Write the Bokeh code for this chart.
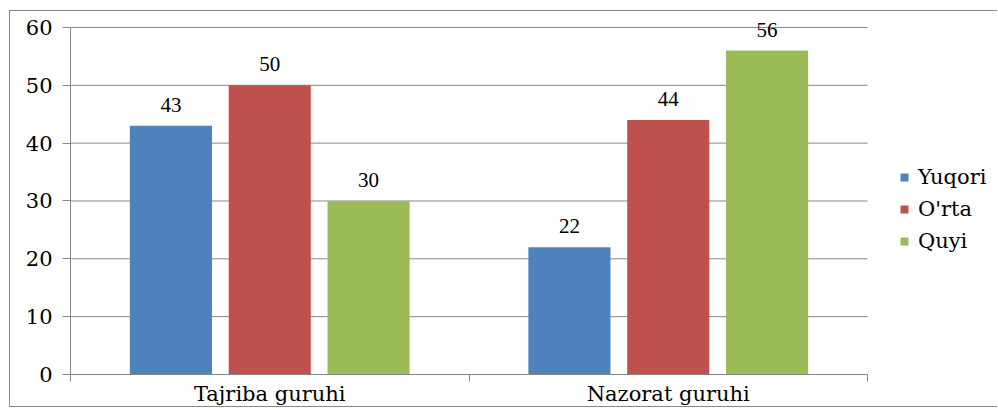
from bokeh.plotting import figure
from bokeh.models import (Range1d, FixedTicker, ColumnDataSource,
                          Legend, LegendItem, LabelSet)
from bokeh.embed import file_html
from bokeh.resources import INLINE

groups = ["Tajriba guruhi", "Nazorat guruhi"]
series = ["Yuqori", "O'rta", "Quyi"]
yuqori = [43, 22]
orta = [50, 44]
quyi = [30, 56]
y_ticks = [0, 10, 20, 30, 40, 50, 60]

colors = ["#4F81BD", "#C0504D", "#9BBB59"]
offsets = [-0.248, 0.0, 0.248]
FONT = "DejaVu Serif"
FS = "21px"
GRID = "#888888"

centers = [i + 0.5 for i in range(len(groups))]
bounds = [float(i) for i in range(len(groups) + 1)]
ymax = y_ticks[-1]

# layout: frame spans to the right and top edges; plotting area ends at len(groups) / ymax
W, H, LEFT, BOTTOM_AXIS = 988, 397, 60, 33
PLOT_W, PLOT_TOP = 797, 16
frame_w = W - LEFT
frame_h = H - BOTTOM_AXIS
x_end = len(groups) * frame_w / PLOT_W
y_end = ymax * frame_h / (frame_h - PLOT_TOP)

p = figure(x_range=Range1d(0, x_end), y_range=Range1d(0, y_end),
           width=W, height=H, output_backend="svg", toolbar_location=None,
           min_border_left=LEFT, min_border_right=0,
           min_border_top=0, min_border_bottom=0)
p.styles = {"border": "1px solid #898989", "border-right": "none",
            "margin-left": "9px", "margin-top": "10px"}
p.outline_line_color = None
p.background_fill_color = "white"
p.border_fill_color = "white"

xax = p.xaxis[0]
xax.bounds = (0, len(groups))
xax.ticker = FixedTicker(ticks=centers, minor_ticks=bounds)
xax.major_label_overrides = {c: g for c, g in zip(centers, groups)}
xax.major_tick_line_color = None
xax.major_tick_out = 0
xax.major_tick_in = 0
xax.minor_tick_out = 7
xax.minor_tick_in = 0
xax.minor_tick_line_color = GRID
xax.axis_line_color = GRID
xax.major_label_standoff = 0
xax.major_label_text_font = FONT
xax.major_label_text_font_size = FS
xax.major_label_text_color = "black"

yax = p.yaxis[0]
yax.bounds = (0, ymax)
yax.ticker = FixedTicker(ticks=y_ticks, minor_ticks=[])
yax.axis_line_color = GRID
yax.major_tick_line_color = GRID
yax.major_tick_out = 8
yax.major_tick_in = 0
yax.minor_tick_line_color = None
yax.major_label_standoff = 10
yax.major_label_text_font = FONT
yax.major_label_text_font_size = FS
yax.major_label_text_color = "black"

p.xgrid.visible = False
p.ygrid.visible = False
# horizontal gridlines limited to the plotting area
p.segment(x0=0, x1=len(groups), y0=y_ticks, y1=y_ticks, line_color=GRID, line_width=1)

items = []
for name, vals, col, off in zip(series, [yuqori, orta, quyi], colors, offsets):
    src = ColumnDataSource(dict(x=[c + off for c in centers], top=vals,
                                t=[str(v) for v in vals]))
    r = p.vbar(x="x", top="top", width=0.206, source=src,
               fill_color=col, line_color=None)
    items.append(LegendItem(label=name, renderers=[r]))
    lbl = LabelSet(x="x", y="top", text="t", source=src,
                   text_align="center", text_baseline="bottom", y_offset=14,
                   text_font=FONT, text_font_size=FS, text_color="black")
    p.add_layout(lbl)

leg = Legend(items=items, location=(829, 121))
leg.border_line_color = None
leg.background_fill_alpha = 0
leg.padding = 6
leg.margin = 0
leg.spacing = 8
leg.glyph_width = 10
leg.glyph_height = 10
leg.label_standoff = 9
leg.label_text_font = FONT
leg.label_text_font_size = FS
leg.label_text_color = "black"
p.add_layout(leg, "center")

open("out.html", "w").write(file_html(p, INLINE))
